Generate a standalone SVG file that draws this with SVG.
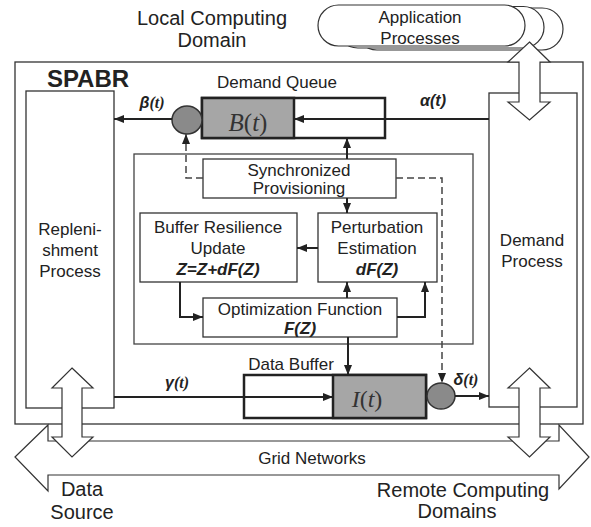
<svg xmlns="http://www.w3.org/2000/svg" width="591" height="527" viewBox="0 0 591 527">
<defs>
<style>
text{font-family:"Liberation Sans",Arial,sans-serif;fill:#222;text-anchor:middle}
.t17{font-size:17px}
.t20{font-size:20px}
.bi{font-weight:bold;font-style:italic}
.math{font-family:"Liberation Serif","Times New Roman",serif;font-style:italic;fill:#333}
.box{fill:#fff;stroke:#333;stroke-width:1.3}
.frame{fill:none;stroke:#444;stroke-width:1.3}
.shade{fill:#a6a6a6;stroke:#222;stroke-width:2.5}
.q{fill:#fff;stroke:#222;stroke-width:2.5}
.big{fill:#fff;stroke:#333;stroke-width:1.2}
.ln{fill:none;stroke:#222;stroke-width:2}
.dash{fill:none;stroke:#444;stroke-width:1.5;stroke-dasharray:7,4}
.circ{fill:#8a8a8a;stroke:#333;stroke-width:1.5}
</style>
<marker id="ah" markerUnits="userSpaceOnUse" markerWidth="10" markerHeight="8" refX="10" refY="4" orient="auto">
<path d="M0,0 L10,4 L0,8 z" fill="#222"/>
</marker>
</defs>
<rect width="591" height="527" fill="#fff"/>

<g id="local-domain">
<text class="t20" x="212" y="25">Local Computing</text>
<text class="t20" x="212" y="47">Domain</text>
</g>

<g id="application-processes">
<rect class="big" x="356" y="8" width="207" height="42" rx="21"/>
<rect class="big" x="337" y="6.5" width="207" height="41.5" rx="20.75"/>
<rect class="big" x="318" y="5" width="207" height="41" rx="20.5"/>
<text class="t17" x="420" y="23">Application</text>
<text class="t17" x="420" y="44">Processes</text>
</g>

<g id="spabr">
<rect class="box" x="15" y="62" width="568" height="362"/>
<text x="88" y="87" style="font-size:24px;font-weight:bold">SPABR</text>
</g>

<g id="grid-networks">
<polygon class="big" points="15,457 48,425 48,441 559,441 559,425 589,457 559,489 559,475 48,475 48,491"/>
<text class="t17" x="312" y="464">Grid Networks</text>
</g>

<g id="replenishment-process">
<rect class="box" x="26" y="91" width="88" height="317"/>
<text class="t17" x="70" y="235">Repleni-</text>
<text class="t17" x="70" y="256">shment</text>
<text class="t17" x="70" y="277">Process</text>
</g>

<g id="demand-process">
<rect class="box" x="489" y="93" width="88" height="314"/>
<text class="t17" x="532" y="246">Demand</text>
<text class="t17" x="532" y="267">Process</text>
</g>

<g id="control-frame">
<rect class="frame" x="134" y="154" width="339" height="190"/>
</g>

<g id="demand-queue">
<text class="t17" x="277" y="88">Demand Queue</text>
<rect class="q" x="202" y="98" width="183" height="40"/>
<rect class="shade" x="202" y="98" width="92" height="40"/>
<text class="math" x="248" y="131" style="font-size:25px;text-anchor:middle"><tspan>B</tspan><tspan font-style="normal">(</tspan><tspan>t</tspan><tspan font-style="normal">)</tspan></text>
</g>

<g id="beta-gate">
<ellipse class="circ" cx="187" cy="120" rx="15" ry="14"/>
</g>

<g id="synchronized-provisioning">
<rect class="box" x="203" y="159" width="193" height="39"/>
<text class="t17" x="299" y="176">Synchronized</text>
<text class="t17" x="299" y="194">Provisioning</text>
</g>

<g id="buffer-resilience-update">
<rect class="box" x="140" y="213" width="157" height="69"/>
<text class="t17" x="218" y="233">Buffer Resilience</text>
<text class="t17" x="218" y="254">Update</text>
<text class="t17 bi" x="218" y="275">Z=Z+dF(Z)</text>
</g>

<g id="perturbation-estimation">
<rect class="box" x="318" y="213" width="119" height="69"/>
<text class="t17" x="377" y="233">Perturbation</text>
<text class="t17" x="377" y="254">Estimation</text>
<text class="t17 bi" x="377" y="275">dF(Z)</text>
</g>

<g id="optimization-function">
<rect class="box" x="203" y="298" width="194" height="39"/>
<text class="t17" x="300" y="315">Optimization Function</text>
<text class="t17 bi" x="300" y="334">F(Z)</text>
</g>

<g id="data-buffer">
<text class="t17" x="291" y="370">Data Buffer</text>
<rect class="q" x="244" y="375" width="182" height="43"/>
<rect class="shade" x="333" y="375" width="93" height="43"/>
<text class="math" x="367" y="407" style="font-size:24px;text-anchor:middle"><tspan>I</tspan><tspan font-style="normal">(</tspan><tspan>t</tspan><tspan font-style="normal">)</tspan></text>
</g>

<g id="delta-gate">
<ellipse class="circ" cx="441" cy="396" rx="14" ry="13"/>
</g>

<g id="connectors">
<path class="ln" d="M489,119 L294,119" marker-end="url(#ah)"/>
<path class="ln" d="M172,119 L114,119" marker-end="url(#ah)"/>
<path class="ln" d="M347,159 L347,138" marker-end="url(#ah)"/>
<path class="ln" d="M347,198 L347,213" marker-end="url(#ah)"/>
<path class="ln" d="M318,248 L297,248" marker-end="url(#ah)"/>
<path class="ln" d="M180,282 L180,317 L203,317" marker-end="url(#ah)"/>
<path class="ln" d="M347,298 L347,282" marker-end="url(#ah)"/>
<path class="ln" d="M397,317 L425,317 L425,282" marker-end="url(#ah)"/>
<path class="ln" d="M348,337 L348,375" marker-end="url(#ah)"/>
<path class="ln" d="M114,397 L333,397" marker-end="url(#ah)"/>
<path class="ln" d="M455,396 L489,396" marker-end="url(#ah)"/>
<path class="dash" d="M203,178 L186,178 L186,134" marker-end="url(#ah)"/>
<path class="dash" d="M396,178 L442,178 L442,383" marker-end="url(#ah)"/>
<polygon class="big" points="529.5,42 550,62 540,62 540,102 550,102 529.5,120 508,102 519,102 519,62 508,62"/>
<polygon class="big" points="72,368 93,388 82,388 82,437 93,437 72,457 52,437 62,437 62,388 52,388"/>
<polygon class="big" points="529.5,368 550,388 540,388 540,437 550,437 529.5,457 508,437 519,437 519,388 508,388"/>
<text x="433" y="106" style="font-size:16px;font-weight:bold;font-style:italic">α(t)</text>
<text x="152" y="108" style="font-size:16px;font-weight:bold;font-style:italic"><tspan>β</tspan><tspan font-family="Liberation Serif,serif">(t)</tspan></text>
<text x="177" y="388" style="font-size:16px;font-weight:bold;font-style:italic"><tspan>γ</tspan><tspan font-family="Liberation Serif,serif">(t)</tspan></text>
<text x="466" y="385" style="font-size:16px;font-weight:bold;font-style:italic"><tspan>δ</tspan><tspan font-family="Liberation Serif,serif">(t)</tspan></text>
</g>

<g id="labels-bottom">
<text class="t20" x="82" y="496">Data</text>
<text class="t20" x="82" y="519">Source</text>
<text class="t20" x="463" y="497">Remote Computing</text>
<text class="t20" x="457" y="518">Domains</text>
</g>
</svg>
